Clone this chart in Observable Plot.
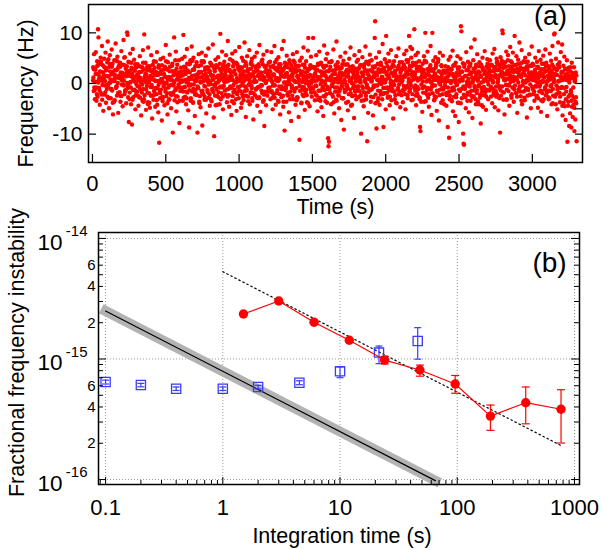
<!DOCTYPE html>
<html><head><meta charset="utf-8">
<script src="https://cdn.jsdelivr.net/npm/d3@7"></script>
<script src="https://cdn.jsdelivr.net/npm/@observablehq/plot@0.6"></script>
<style>
body{margin:0;background:#fff;font-family:"Liberation Sans",Arial,sans-serif;}
#chart{width:602px;height:550px;overflow:hidden;}
svg{display:block;}
</style></head><body><div id="chart"></div>
<script>
// ---------- Panel (a): frequency record (Hz) ----------
// readings set 1: one every 3 s from t = 5 s
const tStart = 5, tStep = 3;
const freq0 = [3.2,-1.5,5.8,0.4,-3.1,2.7,6.2,-0.8,1.9,4.4,-2.6,10.7,9.1,0.9,3.8,-4.2,1.2,5.1,-1.9,2.3,7.4,-0.3,3.6,-5.4,1.7,4.9,-2.2,0.5,6.1,-3.8,2.8,-1.1,4.2,8.3,-0.6,1.4,-4.9,3.3,5.6,0.2,-2.9,1.8,6.7,-1.4,3.9,-6.1,2.4,0.8,4.6,-3.3,1.1,7.9,-0.9,2.6,-2.4,5.3,0.1,-5.8,3.4,1.6,-1.7,4.1,-3.6,2.2,6.4,-0.2,1.3,-4.5,3.7,8.6,0.6,-2.1,5.2,-1.3,2.9,-3.9,1.5,10.1,9.6,-0.4,4.3,-7.6,2.1,-1.8,5.9,0.3,-4.1,3.1,-8.1,1.9,6.8,-2.7,0.7,4.7,-1.2,2.5,-5.1,3.5,-0.1,1.4];
const freq1 = [-1.6,3.8,0.9,-4.4,2.2,-0.7,5.4,-2.8,1.1,-6.3,0.4,3.2,-3.4,6.6,-1.1,2.7,9.7,-2.3,0.6,4.1,-5.2,1.8,-0.5,3.4,-3.7,7.1,0.2,-1.9,2.9,-4.8,1.5,-2.4,5.6,-0.3,-6.9,2.1,0.8,-3.2,4.4,-1.4,3.1,-4.6,0.5,2.3,-2.1,6.2,-0.9,1.7,-5.7,3.6,-11.7,0.4,-2.9,4.8,-1.2,2.6,-7.3,0.9,-3.5,5.1,-0.6,1.9,-4.3,3.3,-1.6,7.6,-2.5,0.1,2.8,-6.1,4.2,-0.8,1.3,-3.1,5.7,-1.9,0.7,-4.9,2.4,-2.2,3.9,-9.7,1.6,-0.4,9.1,-3.3,2.5,-1.1,6.3,-5.5,0.8,3.7,-2.6,1.2,-0.2,4.6,-7.8,2.1,-1.5,0.3];
const freq2 = [2.4,-1.3,4.9,0.6,-3.4,9.6,1.8,-0.7,5.3,-2.6,3.1,-4.1,0.2,6.8,-1.8,2.3,-5.3,1.1,-8.7,3.8,-0.4,4.6,-2.9,0.9,7.3,-1.6,2.7,-3.8,5.1,-0.2,1.6,-6.4,3.4,-1.2,0.5,4.2,-2.3,-9.7,1.9,-0.9,5.8,-3.6,2.1,0.4,-4.7,3.6,-1.5,6.1,-8.3,1.3,-2.1,4.4,0.7,-3.2,2.6,-0.6,5.5,-5.9,1.4,3.2,-1.7,0.3,6.9,-2.8,2.2,-4.4,4.1,-0.1,1.7,-3.5,3.5,-1.4,7.7,0.8,-6.7,-10.4,2.9,-2.4,4.7,0.1,-1.1,3.3,-4.2,1.5,5.2,-2.7,0.6,-0.8,3.9,9.8,-3.1,2.4,-1.9,6.3,0.9,-5.1,2.8,-0.5,4.3,1.2];
const freq3 = [1.9,-2.2,5.6,0.4,-3.7,3.1,8.4,-1.1,2.5,-4.6,0.7,4.8,-0.9,2.2,-6.2,1.4,5.9,-2.5,3.4,-0.3,-3.9,2.6,0.2,6.4,-1.8,4.1,-5.4,1.1,3.7,-0.7,2.9,-2.9,7.2,0.5,-1.5,3.2,-4.8,1.8,5.1,-2.1,0.1,4.5,-3.3,2.4,8.1,-0.6,1.6,-6.6,3.6,-1.4,5.4,0.9,-2.6,2.7,-0.2,6.6,-4.1,1.3,3.9,-1.7,-0.5,4.9,-3.4,1.9,-7.1,2.3,0.6,5.3,-2.3,3.1,-1.2,0.4,6.1,-4.4,2.5,-0.8,3.8,-2.9,7.6,1.1,-5.6,2.1,-0.3,4.4,-1.9,1.5,-3.6,5.7,0.8,-8.4,3.3,-1.6,2.2,-4.3,0.5,6.4,-2.4,1.7,-0.9,4.1];
const freq4 = [2.6,-0.8,4.3,-3.1,1.2,6.2,-1.5,0.3,-5.1,3.5,-2.1,1.8,7.4,-0.4,2.9,-4.2,0.6,4.7,-1.9,3.1,-3.4,5.2,0.9,-0.6,2.3,-6.1,3.8,1.4,-2.7,6.8,-1.1,2.5,-4.6,8.4,0.2,-9.3,4.1,-1.3,1.9,-3.6,5.5,-0.2,3.2,-2.4,1.1,-5.7,4.6,0.7,-1.6,2.8,-7.4,3.6,-0.5,1.3,5.8,-3.1,2.2,-1.2,4.2,0.4,-4.2,2.7,-0.9,6.2,1.5,-2.8,3.4,-6.6,0.8,-11.1,4.5,-1.4,2.1,-3.9,5.1,0.3,-2.2,1.6,7.1,-0.7,3.7,-5.2,1.2,-1.8,4.4,0.6,-3.7,2.4,6.5,9.0,-0.3,2.9,-4.5,1.7,-1.2,5.3,0.1,-2.6,3.3,-0.8];
const freq5 = [9.0,-1.7,3.2,0.5,-3.3,2.1,-0.4,5.6,-2.4,1.3,-5.5,3.9,0.8,-1.4,6.3,-2.8,2.4,-0.1,4.1,-4.7,1.6,-0.9,3.5,-6.4,2.2,7.5,-1.3,0.4,-3.5,4.8,-2.1,1.1,5.9,-0.7,-10.8,-12.4,-11.5,2.7,-1.9,3.3,0.6,-4.1,4.4,-0.5,1.8,-2.6,6.7,0.2,-5.9,2.5,-1.6,3.6,-3.2,8.3,0.9,-0.8,4.2,-2.3,1.5,-4.9,2.9,-1.1,5.3,0.3,-7.2,3.1,-0.6,1.9,-2.9,4.5,-9.1,0.7,-1.7,6.1,2.3,-3.8,1.4,-0.3,3.8,-5.3,2.1,-2.1,4.9,0.5,-1.2,7.1,-4.4,2.6,0.1,-2.5,3.4,-0.9,1.2,-6.8,5.6,-1.5,2.8,0.4,-3.1,4.3];
const freq6 = [2.4,-0.6,4.7,-2.7,1.3,6.4,-1.5,3.6,0.2,-9.9,-3.4,2.1,5.2,-0.9,1.7,-4.5,3.1,0.6,-1.8,7.3,-2.4,4.3,-0.2,-11.4,1.9,-5.8,3.8,0.9,-1.3,5.7,2.6,-3.6,0.4,4.6,-1.1,2.3,-6.3,1.4,-0.7,3.2,9.0,12.3,-2.2,5.1,-8.9,1.6,-0.4,3.9,-2.9,0.8,6.2,-4.2,2.2,-1.6,4.1,-0.1,1.3,-3.1,7.8,0.5,-8.6,2.7,-1.9,4.8,0.3,-5.1,9.4,1.8,-0.8,3.4,-2.6,5.9,-1.3,1.1,-4.3,2.9,0.1,6.6,-3.3,2.1,-0.5,3.7,-6.9,1.5,4.4,-1.7,2.5,-2.3,0.7,5.4,-3.9,1.2,3.1,-0.9,6.9,-2.1,0.6,4.2,-4.7,2.8];
const freq7 = [1.4,-2.3,4.2,0.6,-3.7,2.9,-0.5,5.8,-1.2,3.1,-5.1,1.7,6.5,-0.8,2.4,-2.9,4.6,0.3,9.4,-1.6,3.5,7.2,-0.3,5.1,1.9,6.8,-2.1,4.1,0.8,3.7,10.7,2.2,-1.4,5.6,-4.3,1.1,3.3,-0.7,6.1,-2.5,0.9,4.4,-3.1,-8.6,-9.4,2.6,-0.2,1.5,-5.6,3.9,-1.8,2.3,5.4,-0.6,1.2,10.0,-3.5,4.2,0.4,-2.2,6.3,-0.9,2.8,-4.6,1.6,3.1,-1.1,7.4,0.2,-6.2,2.5,10.0,-1.9,4.5,0.7,-3.3,1.8,-0.4,5.2,-2.7,3.6,-5.4,1.3,-1.5,4.3,0.9,-7.3,2.4,6.1,-0.2,1.1,-3.8,3.4,0.5,-2.1,5.5,-1.2,2.2,-4.1,0.8];
const freq8 = [-0.7,3.4,1.2,-4.4,2.6,-1.8,-8.6,0.5,4.7,-10.7,1.9,-2.4,5.3,0.1,-3.2,2.8,-0.9,6.5,-5.5,1.4,3.6,-1.3,0.7,-6.4,4.1,-2.7,2.1,-0.2,5.4,-3.8,1.6,-7.6,3.2,0.4,-1.5,4.9,11.3,10.3,-2.9,2.3,0.6,-9.9,-11.9,-12.1,3.8,-1.1,1.5,-4.9,6.2,-0.4,2.7,-2.2,4.3,0.9,-5.7,1.8,-0.6,3.5,-3.4,7.1,-1.4,2.2,-6.8,0.3,4.6,-2.5,1.1,8.7,-0.8,3.1,-4.1,1.7,-1.9,5.8,0.6,-3.6,2.4,-0.3,4.2,-2.8,1.3,-7.9,3.7,0.2,-1.6,5.1,-4.6,2.6,-0.7,1.9,6.4,-2.3,0.8,-5.2,3.3,-1.2,4.8,0.4,-3.1,2.1];
const freq9 = [2.8,-1.4,4.6,0.9,-2.6,3.7,1.5,-3.9,5.9,0.2,-1.1,2.4,6.8,-4.7,1.2,3.3,-0.6,4.9,-2.1,2.6,0.4,-5.3,3.8,1.6,-0.9,-9.7,5.2,-2.4,2.1,4.5,10.5,9.9,-1.7,3.1,0.7,-6.1,4.2,1.8,-0.3,6.3,-3.2,2.5,0.9,5.6,-1.5,3.4,-4.4,1.1,7.2,0.3,2.9,-2.8,4.1,-0.8,6.1,1.4,-3.6,2.3,9.4,-0.4,3.6,-1.9,5.4,0.8,-5.8,2.2,4.7,-1.2,1.7,8.1,-0.6,3.9,-2.5,1.3,6.6,-4.1,2.8,0.5,-1.6,4.4,1.9,-3.3,5.1,0.2,-0.9,3.2,-6.7,2.7,4.3,-1.3,0.6,5.8,-2.2,1.5,3.5,-4.9,2.1,7.3,-0.7,3.9];
const freq10 = [-1.2,3.6,0.8,-3.4,2.4,5.1,-0.5,1.9,-2.7,4.3,0.2,-4.8,3.1,6.4,-1.6,2.2,-0.3,4.7,-5.6,1.5,3.9,-1.9,0.6,5.5,-3.1,2.8,1.2,-0.8,6.7,-2.3,4.1,0.4,-6.4,2.6,-1.4,3.4,0.9,-2.9,5.9,1.7,-0.6,4.5,-4.1,2.1,7.4,-1.1,3.3,0.3,9.7,9.9,-2.6,1.8,4.9,-0.4,2.7,-5.1,3.7,8.1,0.5,-1.8,4.2,-3.7,1.4,6.2,-0.9,2.3,7.7,-6.3,0.7,3.5,-2.1,5.3,-4.5,1.1,-7.2,2.9,-0.7,4.6,-11.5,1.3,-3.6,3.1,-8.4,0.9,-5.9,2.4,-1.3,-8.7,4.1,-2.4,-6.6,1.6,-4.2,3.2,-9.4,0.4,-7.1,2.2,-3.9,-11.4];
// readings set 2 (dense core): one every 6 s from t = 6.5 s
const tStartB = 6.5, tStepB = 6;
const core0 = [1.2,-0.8,2.9,0.3,-2.1,3.6,1.7,-1.4,4.2,0.6,-3.2,2.2,0.9,-0.4,3.1,1.5,-2.6,4.8,0.1,2.4,-1.1,3.3,-3.8,1.8,0.5,2.7,-0.6,4.4,-1.9,1.1,3.8,-2.4,0.7,2.1,-0.2,5.1,-1.6,1.4,3.4,-0.9,2.5,-3.1,0.2,4.1,1.3,-1.3,2.8,0.4,-2.3,3.2];
const core1 = [-0.5,1.6,-2.7,2.3,0.1,-1.8,3.1,-3.6,0.8,1.9,-1.2,2.6,-4.1,0.4,3.4,-0.7,1.2,-2.4,2.7,-1.5,0.6,4.3,-3.3,1.7,-0.3,2.1,-1.9,0.9,3.6,-2.8,0.2,1.5,-1.1,2.8,-3.9,1.1,-0.4,3.3,-2.2,0.7,2.4,-1.7,0.3,4.6,-2.5,1.8,-0.8,2.2,-3.4,1.4];
const core2 = [2.1,0.4,-1.6,3.3,-0.7,1.9,-2.9,2.6,0.8,-1.3,4.1,-0.2,1.5,-3.7,2.8,0.6,-1.9,3.5,1.1,-0.9,2.3,-2.5,0.2,4.4,-1.4,1.7,-0.5,3.1,-3.2,1.3,0.9,2.7,-2.1,0.5,3.8,-1.1,1.6,-0.3,2.4,-4.3,1.2,3.2,-1.7,0.7,2.9,-0.6,1.8,-2.6,3.7,0.3];
const core3 = [1.6,-1.2,3.4,0.5,-2.3,2.7,1.1,-0.8,4.5,-1.7,2.2,0.3,-3.1,3.9,0.9,-1.5,2.5,1.7,-0.4,3.1,-2.6,1.3,0.6,4.2,-1.1,2.4,-3.5,1.9,0.2,2.9,-0.9,3.6,-1.9,1.2,0.4,2.6,-2.8,1.5,3.3,-0.6,1.8,-1.4,4.7,0.7,-2.2,2.3,0.1,3.5,-1.6,1.4];
const core4 = [0.8,2.4,-1.7,1.6,-0.4,3.2,-2.8,1.1,2.7,-1.3,0.5,3.8,-2.1,1.9,-0.6,2.5,-3.6,1.3,3.4,-0.9,2.1,0.3,-1.8,4.1,-0.2,1.6,-2.4,2.9,0.6,-1.1,3.5,-3.3,1.4,0.2,2.6,-1.5,1.8,-0.7,3.7,-2.5,0.9,2.2,-1.2,1.5,-3.9,2.8,0.4,-0.8,3.1,1.2];
const core5 = [-0.9,1.7,2.9,-2.2,0.6,3.6,-1.4,1.2,-3.4,2.3,0.3,-0.7,3.1,-2.6,1.5,2.4,-1.1,0.8,4.2,-1.9,1.3,-0.3,2.6,-3.7,0.9,1.9,-1.6,3.4,0.2,-2.4,2.1,1.1,-0.5,3.8,-2.9,1.6,0.4,-1.3,2.7,-0.8,1.4,3.3,-2.1,0.7,-4.2,2.2,1.8,-0.6,2.9,-1.5];
const core6 = [1.9,-0.6,3.1,0.8,-2.4,2.2,1.4,-1.7,3.8,0.3,-3.1,2.6,-0.8,1.6,4.4,-1.3,0.9,2.5,-2.7,1.2,3.4,-0.4,1.7,-3.5,2.8,0.5,-1.5,3.6,1.1,-2.1,2.3,0.2,-0.9,4.1,-1.8,1.5,2.9,-2.6,0.6,3.2,-1.2,1.8,-0.3,2.4,-3.8,1.3,0.7,3.5,-1.6,2.1];
const core7 = [2.6,0.9,-1.5,3.7,1.3,-0.7,4.6,-2.3,1.8,2.9,-1.1,0.5,3.4,-3.2,2.2,1.6,-0.4,4.1,-1.9,2.5,0.8,-2.8,3.2,1.1,-0.9,2.7,-3.6,1.9,4.3,-1.3,0.6,2.3,-2.1,3.6,0.3,-0.6,2.8,1.4,-2.5,3.1,0.7,-1.7,4.8,0.1,-1.2,2.1,1.5,-3.3,2.6,0.4];
const core8 = [0.3,-1.9,2.4,-0.8,1.6,-3.1,2.8,0.5,-1.4,3.5,-2.6,1.2,0.7,-0.3,3.1,-3.8,1.7,2.3,-1.1,0.9,4.0,-2.2,1.4,-0.6,2.6,-3.4,0.4,3.3,-1.7,1.9,0.2,-2.7,2.9,-0.5,1.1,3.7,-1.3,0.6,-4.1,2.2,1.5,-0.9,3.2,-2.3,0.8,2.5,-1.6,1.3,3.9,-0.2];
const core9 = [2.3,1.1,-0.7,3.6,0.4,-1.8,2.8,1.7,-2.6,4.3,0.9,-0.5,3.1,-1.4,2.4,1.3,-3.2,3.9,0.6,1.9,-1.2,4.6,-0.3,2.2,1.5,-2.4,3.3,0.8,-0.9,2.7,1.2,-1.9,3.8,0.2,2.5,-1.6,1.4,4.1,-0.4,2.9,-2.8,1.6,0.5,3.4,-1.1,2.1,0.9,-2.2,3.5,1.8];
const core10 = [1.3,-1.6,2.7,0.5,-2.4,3.3,1.1,-0.6,2.2,-3.3,1.8,0.3,3.9,-1.2,2.4,-0.3,1.5,-2.7,3.1,0.8,-1.5,2.6,-3.9,1.4,0.4,2.9,-2.1,1.7,-0.8,3.6,-1.9,0.6,2.1,-4.4,1.2,-0.9,2.8,-3.1,0.7,1.9,-2.6,0.2,3.2,-1.7,-4.6,1.1,-2.9,0.5,-3.6,1.6];
// readings set 3 (dense core): one every 6 s from t = 3.5 s
const tStartC = 3.5, tStepC = 6;
const mid0 = [0.6,2.8,-1.3,1.9,-3.4,3.5,0.2,-0.9,2.4,4.3,-2.2,1.1,0.4,3.2,-1.7,2.6,-0.3,1.4,-2.9,3.9,0.8,-1.1,2.2,0.5,-3.6,1.7,4.6,-0.6,2.9,-1.9,1.2,3.3,-2.5,0.9,1.8,-0.4,3.6,-1.4,2.1,0.1,-2.7,4.2,1.5,-0.8,2.7,-3.2,0.7,1.3,3.8,-1.6];
const mid1 = [1.7,-2.4,0.6,3.4,-1.2,2.3,-0.2,4.1,-3.1,1.4,0.3,2.8,-1.8,1.1,-3.8,2.5,0.9,-0.7,3.7,-2.3,1.6,-0.9,2.1,-4.2,0.5,3.1,-1.5,1.9,0.2,-2.6,2.7,-0.5,1.3,4.4,-1.9,0.8,-3.3,2.4,1.2,-0.3,3.5,-2.1,0.4,1.8,-1.3,2.9,-3.7,1.5,0.7,-0.8];
const mid2 = [3.1,-0.9,1.6,-2.8,2.5,0.7,-1.6,3.9,0.3,-0.4,2.2,-3.4,1.3,4.5,-1.1,2.7,-2.2,0.9,1.7,-0.6,3.4,-3.9,1.2,2.3,-1.8,0.4,4.2,-2.6,1.9,0.6,-1.3,3.1,-0.2,2.4,-3.1,1.5,0.8,-1.7,2.9,-0.5,3.6,-2.4,0.2,1.6,-4.1,2.6,1.1,-0.8,3.3,0.5];
const mid3 = [-1.4,2.5,0.9,-2.6,3.7,1.4,-0.6,2.1,-3.5,0.7,4.1,-1.2,1.8,0.2,-2.1,3.2,-0.7,2.6,1.1,-3.9,1.9,0.5,-1.5,3.5,-2.4,1.3,2.8,-0.3,0.6,-1.9,4.3,-2.9,1.6,0.3,2.3,-1.1,3.4,-0.8,1.7,-2.7,0.9,2.2,-0.4,3.8,-3.3,1.2,0.4,2.7,-1.6,1.9];
const mid4 = [2.2,-1.5,3.3,0.6,-2.8,1.8,-0.3,4.2,-1.9,1.1,2.5,-3.6,0.8,3.1,-1.1,1.6,-2.4,2.9,0.2,-0.7,3.8,-2.1,1.4,0.5,-3.1,2.6,-0.9,1.9,4.5,-1.6,0.3,2.3,-2.7,1.2,3.5,-0.5,1.7,-3.8,2.4,0.9,-1.3,3.1,0.1,-2.3,2.8,1.3,-0.6,3.6,-1.8,0.7];
const mid5 = [0.9,3.2,-1.8,1.5,-0.5,2.7,-3.2,1.2,3.9,-1.4,0.6,2.1,-2.5,1.7,-0.2,3.5,-3.8,0.8,2.4,-1.1,1.3,4.3,-2.2,0.4,1.9,-0.8,2.8,-3.4,1.1,3.3,-1.6,0.5,2.2,-2.9,1.6,0.2,-1.2,3.7,-0.4,1.4,-3.6,2.5,0.7,-1.9,3.1,1.2,-0.3,2.6,-2.3,0.9];
const mid6 = [1.5,-1.1,2.9,0.4,-2.3,3.6,-0.6,1.8,-3.3,2.4,0.9,-0.8,4.1,-1.7,1.2,2.6,-2.6,0.5,3.3,-0.4,1.9,-3.9,2.2,0.7,-1.4,3.8,0.1,-2.2,2.7,1.3,-0.9,3.1,-1.9,0.8,2.3,-2.8,1.6,4.4,-0.7,2.1,-1.5,0.3,3.4,-3.1,1.7,0.6,-1.2,2.8,-0.2,1.4];
const mid7 = [2.8,0.3,-1.3,3.4,1.6,-2.1,2.3,-0.5,4.2,0.9,-1.6,2.6,-3.3,1.4,3.7,-0.8,1.9,-2.4,2.9,0.6,-1.1,3.3,1.1,-3.6,2.2,0.4,-0.7,4.5,-1.9,1.7,2.8,-2.8,0.8,3.1,-1.2,1.3,-0.3,2.5,-3.2,1.9,3.9,-1.4,0.7,2.4,-2.3,1.1,3.6,-0.9,2.1,0.5];
const mid8 = [-0.4,2.1,-2.3,1.3,3.2,-1.6,0.5,2.7,-3.5,1.9,-0.8,3.6,0.2,-2.1,1.6,2.8,-1.2,0.7,-3.9,2.4,1.1,-0.6,3.3,-2.7,1.5,0.3,-1.8,2.6,-0.3,3.9,-2.4,1.2,0.6,-1.4,2.3,-3.1,1.8,0.9,-0.5,3.4,-2.2,1.4,-4.3,2.9,0.4,-1.1,2.2,-2.6,1.7,3.1];
const mid9 = [1.9,3.5,-0.9,2.4,0.6,-2.3,3.2,1.4,-1.5,4.1,0.2,2.7,-2.9,1.6,3.8,-0.6,2.1,-1.8,0.9,3.3,-3.1,1.8,2.6,-0.4,1.2,4.4,-2.1,2.3,0.5,-1.2,3.6,0.8,-2.6,2.9,1.5,-0.8,3.1,-3.4,1.9,0.3,2.5,-1.4,4.2,0.7,-2.4,1.3,3.4,-0.2,2.2,1.1];
const mid10 = [0.7,-2.1,2.4,1.2,-0.6,3.1,-2.9,1.6,0.3,-1.4,2.8,-3.5,1.4,2.2,-0.9,3.4,-1.8,0.5,-3.1,2.1,1.1,-0.3,3.7,-2.4,0.8,1.9,-4.1,2.6,-1.2,0.4,3.2,-2.6,1.3,-0.7,2.3,-3.8,0.9,1.8,-1.6,2.7,-4.4,0.6,-2.2,1.5,-3.4,2.1,-0.8,-4.8,0.9,-2.7];
const timeTicks = [0, 500, 1000, 1500, 2000, 2500, 3000];
const freqTicks = [-10, 0, 10];
const freqMinorTicks = [-10, -5, 0, 5, 10];

// ---------- Panel (b): Allan deviation ----------
const redTau  = [1.5, 3, 6, 12, 24, 48, 96, 192, 384, 768];
const redDev  = [2.36e-15, 3.03e-15, 2.02e-15, 1.43e-15, 0.98e-15, 0.81e-15, 0.62e-15, 3.36e-16, 4.34e-16, 3.83e-16];
const redLo   = [null, null, null, null, 0.91e-15, 0.72e-15, 0.52e-15, 2.56e-16, 2.9e-16, 2.01e-16];
const redHi   = [null, null, null, null, 1.05e-15, 0.89e-15, 0.73e-15, 4.15e-16, 5.86e-16, 5.56e-16];
const blueTau = [0.1, 0.2, 0.4, 1, 2, 4.5, 10, 21.5, 46];
const blueDev = [0.644e-15, 0.608e-15, 0.567e-15, 0.567e-15, 0.585e-15, 0.636e-15, 0.79e-15, 1.13e-15, 1.41e-15];
const blueLo  = [0.62e-15, 0.588e-15, 0.548e-15, 0.548e-15, 0.565e-15, 0.612e-15, 0.70e-15, 0.915e-15, 0.997e-15];
const blueHi  = [0.668e-15, 0.628e-15, 0.586e-15, 0.586e-15, 0.605e-15, 0.66e-15, 0.86e-15, 1.28e-15, 1.82e-15];
const limitTau = [0.1, 65];          // black line with grey band
const limitDev = [2.5e-15, 0.98e-16];
const slopeTau = [1, 780];           // dotted guide line
const slopeDev = [5.3e-15, 1.9e-16];
const tauDecades = [0.1, 1, 10, 100, 1000];
const tauMinor = [0.09,0.2,0.3,0.4,0.5,0.6,0.7,0.8,0.9,2,3,4,5,6,7,8,9,20,30,40,50,60,70,80,90,200,300,400,500,600,700,800,900];
const devDecades = [1e-16, 1e-15, 1e-14];
const devExponents = ["-16", "-15", "-14"];
const devMinor = [2e-16,3e-16,4e-16,5e-16,6e-16,7e-16,8e-16,9e-16,2e-15,3e-15,4e-15,5e-15,6e-15,7e-15,8e-15,9e-15];
const devMinorLabeled = [2e-16, 4e-16, 6e-16, 2e-15, 4e-15, 6e-15];
const devMinorText = ["2", "4", "6", "2", "4", "6"];

// ---------- build ----------
const FONT = '"Liberation Sans", Arial, Helvetica, sans-serif';
const W = 602;
const RED = "#ff0000", BLUE = "#3a3aff";
const TITLE = 21.5, TICK = 22;

const seriesA = [].concat(freq0,freq1,freq2,freq3,freq4,freq5,freq6,freq7,freq8,freq9,freq10)
  .map((f, i) => ({t: tStart + i * tStep, f}))
  .concat([].concat(core0,core1,core2,core3,core4,core5,core6,core7,core8,core9,core10)
  .map((f, i) => ({t: tStartB + i * tStepB, f})))
  .concat([].concat(mid0,mid1,mid2,mid3,mid4,mid5,mid6,mid7,mid8,mid9,mid10)
  .map((f, i) => ({t: tStartC + i * tStepC, f})));

const aH = 218, aML = 88, aMR = 20, aMT = 4, aMB = 56;
const aPW = W - aML - aMR, aPH = aH - aMT - aMB;

const plotA = Plot.plot({
  width: W, height: aH, marginLeft: aML, marginRight: aMR, marginTop: aMT, marginBottom: aMB,
  style: {fontFamily: FONT, background: "white", color: "black", overflow: "visible"},
  x: {type: "linear", domain: [-27, 3342], axis: null},
  y: {type: "linear", domain: [-15.6, 15.6], axis: null},
  marks: [
    Plot.dot(seriesA, {x: "t", y: "f", r: 2.2, fill: RED, stroke: "none"}),
    Plot.frame({stroke: "black", strokeWidth: 1.5}),
    Plot.tickY(freqTicks, {y: d => d, insetRight: aPW - 8, stroke: "black", strokeWidth: 1.2}),
    Plot.tickY(freqMinorTicks, {y: d => d, insetLeft: aPW - 7, stroke: "black", strokeWidth: 1.2}),
    Plot.tickX(timeTicks, {x: d => d, insetTop: aPH - 8, stroke: "black", strokeWidth: 1.2}),
    Plot.text(timeTicks, {x: d => d, frameAnchor: "bottom", dy: 21, lineAnchor: "middle", text: d => String(d), fontSize: TICK, fill: "black"}),
    Plot.text(freqTicks, {y: d => d, frameAnchor: "left", dx: -6, textAnchor: "end", lineAnchor: "middle", text: d => String(d), fontSize: 21, fill: "black"}),
    Plot.text(["Frequency (Hz)"], {frameAnchor: "left", dx: -62, dy: 10, rotate: -90, textAnchor: "middle", lineAnchor: "middle", fontSize: TITLE, fill: "black"}),
    Plot.text(["Time (s)"], {frameAnchor: "bottom", dy: 45, lineAnchor: "middle", fontSize: TITLE, fill: "black"}),
    Plot.text(["(a)"], {frameAnchor: "top-right", dx: -32, dy: 12, lineAnchor: "middle", textAnchor: "middle", fontSize: 27, fill: "black"})
  ]
});

const redData = redTau.map((tau, i) => ({tau, dev: redDev[i], lo: redLo[i], hi: redHi[i]}));
const redErr = redData.filter(d => d.lo != null);
const blueData = blueTau.map((tau, i) => ({tau, dev: blueDev[i], lo: blueLo[i], hi: blueHi[i]}));
const limitData = limitTau.map((tau, i) => ({tau, dev: limitDev[i]}));
const slopeData = slopeTau.map((tau, i) => ({tau, dev: slopeDev[i]}));

const capRed = {draw(ctx) { ctx.moveTo(-4, 0); ctx.lineTo(4, 0); }};
const capBlue = {draw(ctx) { ctx.moveTo(-3.5, 0); ctx.lineTo(3.5, 0); }};

const bH = 550 - aH, bML = 98, bMR = 23, bMT = 14, bMB = 66;
const bPW = W - bML - bMR, bPH = bH - bMT - bMB;

const plotB = Plot.plot({
  width: W, height: bH, marginLeft: bML, marginRight: bMR, marginTop: bMT, marginBottom: bMB,
  style: {fontFamily: FONT, background: "white", color: "black", overflow: "visible"},
  x: {type: "log", domain: [0.087, 1104], axis: null},
  y: {type: "log", domain: [9.1e-17, 1.12e-14], axis: null},
  marks: [
    Plot.ruleX(tauDecades, {x: d => d, stroke: "#999", strokeWidth: 1, strokeDasharray: "1,2"}),
    Plot.ruleY(devDecades, {y: d => d, stroke: "#999", strokeWidth: 1, strokeDasharray: "1,2"}),
    Plot.line(limitData, {x: "tau", y: "dev", stroke: "#b3b3b3", strokeWidth: 10, strokeLinecap: "square"}),
    Plot.line(limitData, {x: "tau", y: "dev", stroke: "black", strokeWidth: 1.2}),
    Plot.line(slopeData, {x: "tau", y: "dev", stroke: "black", strokeWidth: 1.2, strokeDasharray: "1.5,3"}),
    Plot.ruleX(blueData, {x: "tau", y1: "lo", y2: "hi", stroke: BLUE, strokeWidth: 1.2}),
    Plot.dot(blueData, {x: "tau", y: "lo", symbol: capBlue, r: 3, stroke: BLUE, fill: "none", strokeWidth: 1.2}),
    Plot.dot(blueData, {x: "tau", y: "hi", symbol: capBlue, r: 3, stroke: BLUE, fill: "none", strokeWidth: 1.2}),
    Plot.dot(blueData, {x: "tau", y: "dev", symbol: "square", r: 5.2, stroke: BLUE, fill: "none", strokeWidth: 1.3}),
    Plot.line(redData, {x: "tau", y: "dev", stroke: RED, strokeWidth: 1.2}),
    Plot.ruleX(redErr, {x: "tau", y1: "lo", y2: "hi", stroke: RED, strokeWidth: 1.2}),
    Plot.dot(redErr, {x: "tau", y: "lo", symbol: capRed, r: 3, stroke: RED, fill: "none", strokeWidth: 1.2}),
    Plot.dot(redErr, {x: "tau", y: "hi", symbol: capRed, r: 3, stroke: RED, fill: "none", strokeWidth: 1.2}),
    Plot.dot(redData, {x: "tau", y: "dev", r: 4.7, fill: RED, stroke: "none"}),
    Plot.frame({stroke: "black", strokeWidth: 1.5}),
    Plot.tickY(devDecades, {y: d => d, insetRight: bPW - 8, stroke: "black"}),
    Plot.tickY(devMinor, {y: d => d, insetRight: bPW - 5, stroke: "black"}),
    Plot.tickY(devDecades, {y: d => d, insetLeft: bPW - 8, stroke: "black"}),
    Plot.tickY(devMinor, {y: d => d, insetLeft: bPW - 5, stroke: "black"}),
    Plot.tickX(tauDecades, {x: d => d, insetTop: bPH - 7, stroke: "black"}),
    Plot.tickX(tauMinor, {x: d => d, insetTop: bPH - 4, stroke: "black"}),
    Plot.text(tauDecades, {x: d => d, frameAnchor: "bottom", dy: 23, lineAnchor: "middle", text: d => String(d), fontSize: TICK, fill: "black"}),
    Plot.text(devMinorLabeled, {y: d => d, frameAnchor: "left", dx: -3, textAnchor: "end", lineAnchor: "middle", text: (d, i) => devMinorText[i], fontSize: 15, fill: "black"}),
    Plot.text(devDecades, {y: d => d, frameAnchor: "left", dx: -36, dy: 4, textAnchor: "end", lineAnchor: "middle", text: () => "10", fontSize: 22.5, fill: "black"}),
    Plot.text(devDecades, {y: d => d, frameAnchor: "left", dx: -11, dy: -7, textAnchor: "end", lineAnchor: "middle", text: (d, i) => devExponents[i], fontSize: 15, fill: "black"}),
    Plot.text(["Fractional frequency instability"], {frameAnchor: "left", dx: -81, dy: -6, rotate: -90, textAnchor: "middle", lineAnchor: "middle", fontSize: TITLE, fill: "black"}),
    Plot.text(["Integration time (s)"], {frameAnchor: "bottom", dx: 3, dy: 52, lineAnchor: "middle", fontSize: TITLE, fill: "black"}),
    Plot.text(["(b)"], {frameAnchor: "top-right", dx: -30, dy: 31, lineAnchor: "middle", textAnchor: "middle", fontSize: 28, fill: "black"})
  ]
});

const root = document.getElementById("chart");
root.appendChild(plotA);
root.appendChild(plotB);
</script></body></html>
